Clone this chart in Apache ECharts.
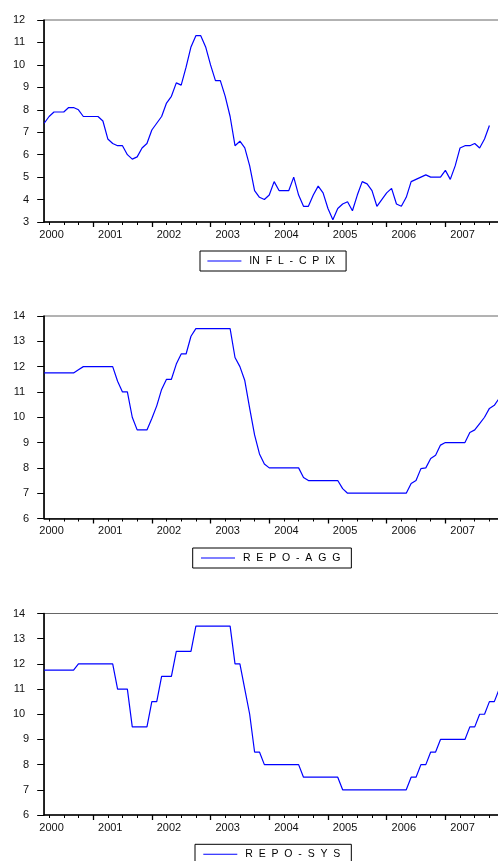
<!DOCTYPE html>
<html>
<head>
<meta charset="utf-8">
<script src="https://cdn.jsdelivr.net/npm/echarts@6/dist/echarts.min.js"></script>
<style>
html,body{margin:0;padding:0;background:#fff;}
#chart{width:498px;height:861px;}
</style>
</head>
<body>
<div id="chart"></div>
<script>
// Monthly observations, first observation = January 2000
const startYear = 2000;
const yearLabels = [2000, 2001, 2002, 2003, 2004, 2005, 2006, 2007];

const inflCpix = [
  7.4, 7.7, 7.9, 7.9, 7.9, 8.1, 8.1, 8.0, 7.7, 7.7, 7.7, 7.7,
  7.5, 6.7, 6.5, 6.4, 6.4, 6.0, 5.8, 5.9, 6.3, 6.5, 7.1, 7.4,
  7.7, 8.3, 8.6, 9.2, 9.1, 9.9, 10.8, 11.3, 11.3, 10.8, 10.0, 9.3,
  9.3, 8.6, 7.7, 6.4, 6.6, 6.3, 5.5, 4.4, 4.1, 4.0, 4.2, 4.8,
  4.4, 4.4, 4.4, 5.0, 4.2, 3.7, 3.7, 4.2, 4.6, 4.3, 3.6, 3.1,
  3.6, 3.8, 3.9, 3.5, 4.2, 4.8, 4.7, 4.4, 3.7, 4.0, 4.3, 4.5,
  3.8, 3.7, 4.1, 4.8, 4.9, 5.0, 5.1, 5.0, 5.0, 5.0, 5.3, 4.9,
  5.5, 6.3, 6.4, 6.4, 6.5, 6.3, 6.7, 7.3
];

const repoAgg = [
  11.75, 11.75, 11.75, 11.75, 11.75, 11.75, 11.75, 11.88, 12, 12, 12, 12,
  12, 12, 12, 11.42, 11, 11, 10, 9.5, 9.5, 9.5, 9.95, 10.45,
  11.1, 11.5, 11.5, 12.1, 12.5, 12.5, 13.2, 13.5, 13.5, 13.5, 13.5, 13.5,
  13.5, 13.5, 13.5, 12.36, 12, 11.45, 10.35, 9.3, 8.55, 8.15, 8, 8,
  8, 8, 8, 8, 8, 7.62, 7.5, 7.5, 7.5, 7.5, 7.5, 7.5,
  7.5, 7.18, 7, 7, 7, 7, 7, 7, 7, 7, 7, 7,
  7, 7, 7, 7.38, 7.5, 7.97, 8, 8.37, 8.5, 8.9, 9, 9,
  9, 9, 9, 9.4, 9.5, 9.75, 10, 10.35, 10.47, 10.75
];

const repoSys = [
  11.75, 11.75, 11.75, 11.75, 11.75, 11.75, 11.75, 12, 12, 12, 12, 12,
  12, 12, 12, 11, 11, 11, 9.5, 9.5, 9.5, 9.5, 10.5, 10.5,
  11.5, 11.5, 11.5, 12.5, 12.5, 12.5, 12.5, 13.5, 13.5, 13.5, 13.5, 13.5,
  13.5, 13.5, 13.5, 12, 12, 11, 10, 8.5, 8.5, 8, 8, 8,
  8, 8, 8, 8, 8, 7.5, 7.5, 7.5, 7.5, 7.5, 7.5, 7.5,
  7.5, 7, 7, 7, 7, 7, 7, 7, 7, 7, 7, 7,
  7, 7, 7, 7.5, 7.5, 8, 8, 8.5, 8.5, 9, 9, 9,
  9, 9, 9, 9.5, 9.5, 10, 10, 10.5, 10.5, 11
];

const seriesNames = ['INFL-CPIX', 'REPO-AGG', 'REPO-SYS'];
const legendText = {
  'INFL-CPIX': ' IN  F  L  -  C  P  IX',
  'REPO-AGG': ' R  E  P  O  -  A  G  G',
  'REPO-SYS': ' R  E  P  O  -  S  Y  S'
};
const yRanges = [[3, 12], [6, 14], [6, 14]];
const seriesValues = [inflCpix, repoAgg, repoSys];

// ---- layout / style ----
const FONT = 'Liberation Sans, Arial, sans-serif';
const monthsShown = 95; // axis spans Jan 2000 .. Dec 2007
const pxPerMonth = 58.71 / 12;
const gridLeft = 44.2;
const gridWidth = monthsShown * pxPerMonth;
const grids = [
  {top: 20, height: 202},
  {top: 316, height: 202.5},
  {top: 613.5, height: 201.5}
];
const legendPos = [
  {left: 200, top: 251, padding: [4, 11, 4, 7.4]},
  {left: 192.7, top: 548, padding: [4, 11, 4, 8.3]},
  {left: 195, top: 844.3, padding: [4, 11, 4, 8.3]}
];

const labelVals = yearLabels.map(y => (y - startYear) * 12 + 1.5);
const minorTickVals = [];
for (let m = 1; m <= monthsShown; m += 3) minorTickVals.push(m);
const majorTickVals = [];
for (let m = 10; m <= monthsShown; m += 12) majorTickVals.push(m);

const option = {
  backgroundColor: '#fff',
  animation: false,
  grid: grids.map(g => ({
    left: gridLeft, width: gridWidth, top: g.top, height: g.height,
    outerBoundsMode: 'none', containLabel: false,
    show: true, borderColor: '#666', borderWidth: 1, backgroundColor: 'transparent'
  })),
  xAxis: [],
  yAxis: [],
  legend: [],
  series: []
};

grids.forEach((g, i) => {
  option.xAxis.push({
    type: 'value', gridIndex: i, min: 0, max: monthsShown, position: 'bottom',
    axisLine: {show: true, onZero: false, lineStyle: {color: '#000', width: 1.5}},
    axisTick: {show: true, length: 3, customValues: minorTickVals, lineStyle: {color: '#000', width: 1}},
    axisLabel: {
      show: true, customValues: labelVals, margin: 7,
      fontSize: 11, fontFamily: FONT, color: '#111',
      formatter: v => String(Math.round(startYear + (v - 1.5) / 12))
    },
    splitLine: {show: false}
  });
  option.xAxis.push({
    type: 'value', gridIndex: i, min: 0, max: monthsShown, position: 'bottom',
    axisLine: {show: false, onZero: false},
    axisTick: {show: true, length: 5, customValues: majorTickVals, lineStyle: {color: '#000', width: 1.3}},
    axisLabel: {show: false},
    splitLine: {show: false}
  });
  option.yAxis.push({
    type: 'value', gridIndex: i, min: yRanges[i][0], max: yRanges[i][1], interval: 1,
    position: 'left',
    axisLine: {show: true, onZero: false, lineStyle: {color: '#000', width: 1.6}},
    axisTick: {show: true, length: 7, lineStyle: {color: '#000', width: 1}},
    axisLabel: {
      margin: 15, fontSize: 11, fontFamily: FONT, color: '#111',
      formatter: v => (v >= 10 ? '{d|' + v + '}' : '{s|' + v + '}'),
      rich: {
        d: {fontSize: 11, fontFamily: FONT, color: '#111', padding: [0, 4, 0, 0]},
        s: {fontSize: 11, fontFamily: FONT, color: '#111'}
      }
    },
    splitLine: {show: false}
  });
  option.series.push({
    name: seriesNames[i], type: 'line', xAxisIndex: i * 2, yAxisIndex: i,
    data: seriesValues[i].map((v, k) => [k, v]),
    showSymbol: false, symbol: 'none',
    lineStyle: {color: '#0000ff', width: 1.2},
    itemStyle: {color: '#0000ff'},
    clip: true
  });
  option.legend.push({
    data: [seriesNames[i]],
    left: legendPos[i].left, top: legendPos[i].top, padding: legendPos[i].padding,
    orient: 'horizontal', icon: 'rect', itemWidth: 34, itemHeight: 1,
    borderColor: '#000', borderWidth: 1, backgroundColor: '#fff',
    selectedMode: false,
    textStyle: {fontSize: 10.5, fontFamily: FONT, color: '#000', lineHeight: 12},
    formatter: name => legendText[name]
  });
});

const chart = echarts.init(document.getElementById('chart'), null, {renderer: 'canvas'});
chart.setOption(option);
</script>
</body>
</html>
